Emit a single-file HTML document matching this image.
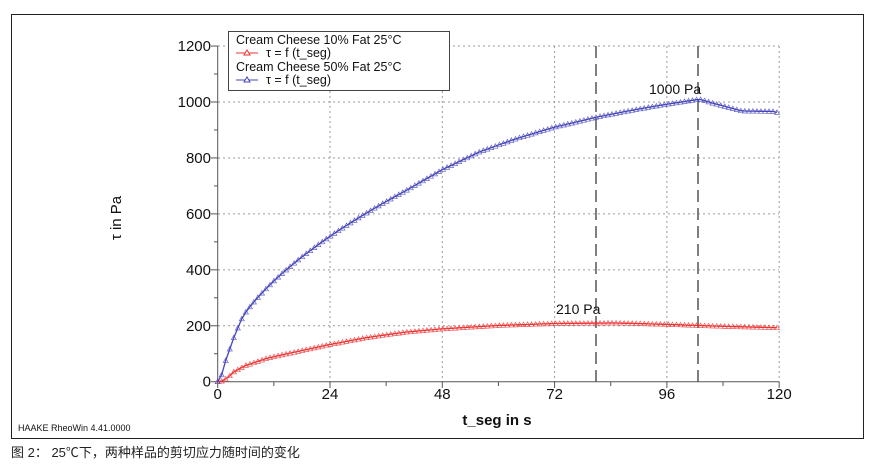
<!DOCTYPE html>
<html><head><meta charset="utf-8"><style>
body{margin:0;background:#fff;width:873px;height:468px;overflow:hidden}
svg{display:block;font-family:"Liberation Sans",Arial,sans-serif}
</style></head><body>
<svg id="s" width="873" height="468" xmlns="http://www.w3.org/2000/svg">
<rect x="11.5" y="14.5" width="852" height="424" fill="none" stroke="#222" stroke-width="1"/>
<g id="grid" stroke="#999" stroke-dasharray="2,3" stroke-width="1"></g>
<g id="ax" stroke="#555" stroke-width="1"></g>
<g id="lab" font-size="14" fill="#111"></g>
<line x1="596" y1="46" x2="596" y2="382" stroke="#555" stroke-width="1.5" stroke-dasharray="12,6"/>
<line x1="698" y1="46" x2="698" y2="382" stroke="#555" stroke-width="1.5" stroke-dasharray="12,6"/>
<g id="ser"></g>
<text x="649" y="94" font-size="14" fill="#111">1000 Pa</text>
<text x="556" y="314" font-size="14" fill="#111">210 Pa</text>
<text x="497" y="425" font-size="15" font-weight="bold" text-anchor="middle" fill="#111">t_seg in s</text>
<text transform="translate(121,218) rotate(-90)" font-size="15" text-anchor="middle" fill="#111">τ in Pa</text>
<text x="18" y="431" font-size="9" fill="#111">HAAKE RheoWin 4.41.0000</text>
<text x="11" y="457" font-size="13" fill="#222" font-family="'Liberation Sans','Noto Sans CJK SC',sans-serif">图 2：  25℃下，两种样品的剪切应力随时间的变化</text>
<rect x="228.5" y="31.5" width="221" height="59" fill="#fff" stroke="#444"/>
<g font-size="12.5" fill="#111">
<text x="236" y="44">Cream Cheese 10% Fat 25°C</text>
<text x="266" y="57">τ = f (t_seg)</text>
<text x="236" y="71">Cream Cheese 50% Fat 25°C</text>
<text x="266" y="84">τ = f (t_seg)</text>
</g>
<line x1="236" y1="53" x2="258" y2="53" stroke="#e33"/><path d="M244,55 l3,-5 l3,5z" fill="#fff" stroke="#e33"/>
<line x1="236" y1="80" x2="258" y2="80" stroke="#44b"/><path d="M244,82 l3,-5 l3,5z" fill="#fff" stroke="#44b"/>
</svg>
<script>
var X=t=>217.7+t*4.679, Y=v=>381.7-v*0.2797, ns="http://www.w3.org/2000/svg";
function el(p,n,a){var e=document.createElementNS(ns,n);for(var k in a)e.setAttribute(k,a[k]);document.getElementById(p).appendChild(e);return e}
for(var t=24;t<=120;t+=24)el('grid','line',{x1:X(t),y1:46,x2:X(t),y2:382});
for(var v=200;v<=1200;v+=200)el('grid','line',{x1:218,y1:Y(v),x2:779,y2:Y(v)});
el('ax','line',{x1:217.7,y1:46,x2:217.7,y2:382});
el('ax','line',{x1:217.7,y1:381.7,x2:779,y2:381.7});
for(var v=0;v<=1200;v+=100){el('ax','line',{x1:v%200?214:211,y1:Y(v),x2:218,y2:Y(v)});if(v%200==0){var e=el('lab','text',{x:211,y:Y(v)+5,'text-anchor':'end','font-size':15});e.textContent=v}}
for(var t=0;t<=120;t+=12){el('ax','line',{x1:X(t),y1:382,x2:X(t),y2:t%24?386:388});if(t%24==0){var e=el('lab','text',{x:X(t),y:399,'text-anchor':'middle','font-size':15});e.textContent=t}}
function interp(P,t){for(var i=1;i<P.length;i++)if(t<=P[i][0]){var a=P[i-1],b=P[i];return a[1]+(b[1]-a[1])*(t-a[0])/(b[0]-a[0])}return P[P.length-1][1]}
var B=[[0,0],[0.85,24],[1.7,75],[2.6,118],[3.5,160],[4.5,200]];
for(var t=5.5;t<=40;t+=1.5)B.push([t,96.4*Math.pow(t,0.53)]);
B=B.concat([[48,758],[56,822],[64,870],[72,910],[81,946],[90,975],[96,992],[103,1010],[106,995],[112,968],[119,966],[120,960]]);
var R=[[0,0],[0.85,2],[2,12],[3.5,36],[6,58],[10.6,84],[16,104],[23.4,131],[32,158],[40,177],[48,189],[60,201],[72,208],[85,210],[96,205],[108,198],[120,193]];
function draw(P,c,step){var d='',m='';for(var t=0;t<=120.001;t+=step){var x=X(t),y=Y(interp(P,t));d+=(t?'L':'M')+x.toFixed(1)+','+y.toFixed(1);m+='M'+(x-2.5).toFixed(1)+','+(y+2).toFixed(1)+'l2.5,-4.5l2.5,4.5z'}
el('ser','path',{d:m,fill:'none',stroke:c,'stroke-width':0.7,opacity:0.8});el('ser','path',{d:d,fill:'none',stroke:c,'stroke-width':1.3});}
draw(R,'#e33',0.86);draw(B,'#44b',0.86);
</script>
</body></html>
